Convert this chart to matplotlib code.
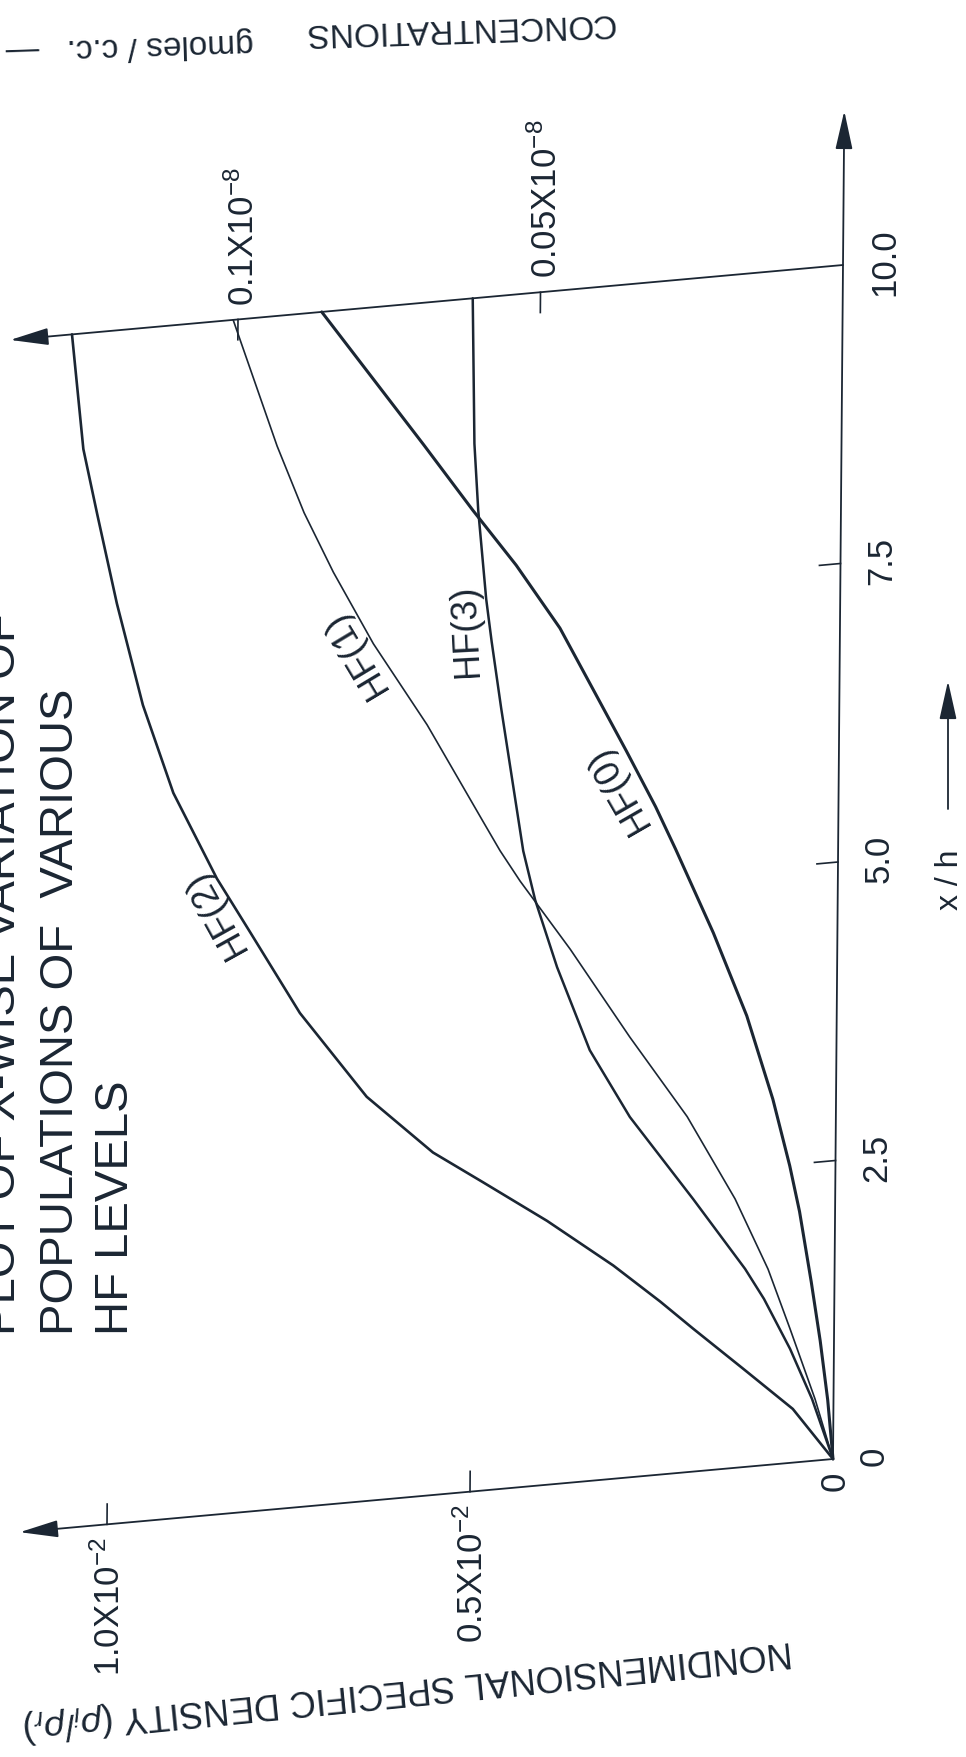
import numpy as np
import matplotlib
matplotlib.use('Agg')
import matplotlib.pyplot as plt
from matplotlib.transforms import Affine2D

plt.rcParams['font.family'] = ['Liberation Sans', 'DejaVu Sans']
plt.rcParams['mathtext.fontset'] = 'custom'
plt.rcParams['mathtext.rm'] = 'Liberation Sans'
plt.rcParams['mathtext.it'] = 'Liberation Sans:italic'
plt.rcParams['mathtext.bf'] = 'Liberation Sans:bold'

# x/h stations and nondimensional specific density (units of 1e-2) for each level
xh_hf2 = [0, 0.45, 0.825, 1.199, 1.45, 1.787, 2.212, 2.585, 2.871, 3.388, 4.14, 4.86, 5.33,
          6.08, 6.84, 7.71, 8.47, 9.03, 10.0]
rho_hf2 = [0, 0.056, 0.125, 0.1945, 0.240, 0.305, 0.397, 0.486, 0.555, 0.647, 0.740, 0.810, 0.856,
           0.917, 0.960, 0.997, 1.025, 1.045, 1.062]

xh_hf1 = [0, 0.517, 1.123, 1.64, 2.254, 2.98, 3.69, 4.47, 5.08, 5.35, 5.61, 6.46, 7.18, 7.81,
          8.33, 8.91, 10.0]
rho_hf1 = [0, 0.0255, 0.0607, 0.0917, 0.138, 0.205, 0.285, 0.368, 0.438, 0.466, 0.490, 0.568,
           0.643, 0.699, 0.740, 0.778, 0.840]

xh_hf3 = [0, 0.519, 0.956, 1.394, 1.66, 2.286, 3.02, 3.61, 4.33, 4.91, 5.33, 6.54, 7.11, 7.47,
          8.22, 8.78, 10.0]
rho_hf3 = [0, 0.0296, 0.0605, 0.0970, 0.1234, 0.196, 0.284, 0.340, 0.386, 0.417, 0.434, 0.466,
           0.480, 0.488, 0.500, 0.506, 0.510]

xh_hf0 = [0, 0.50, 1.00, 1.50, 2.10, 2.49, 3.06, 3.78, 4.50, 5.23, 5.60, 6.09, 6.59, 7.17, 7.73,
          8.22, 8.81, 10.0]
rho_hf0 = [0, 0.008, 0.019, 0.032, 0.049, 0.063, 0.087, 0.124, 0.171, 0.224, 0.252, 0.293, 0.336,
           0.386, 0.447, 0.507, 0.576, 0.718]

xh_ticks = [0, 2.5, 5.0, 7.5, 10.0]
xh_labels = ['0', '2.5', '5.0', '7.5', '10.0']
rho_ticks = [0, 0.5e-2, 1.0e-2]
rho_labels = ['0', r'0.5X10$^{-2}$', r'1.0X10$^{-2}$']
conc_ticks = [0.05e-8, 0.1e-8]
conc_labels = [r'0.05X10$^{-8}$', r'0.1X10$^{-8}$']
conc_per_rho = 1.2e-7   # gmoles/c.c. per unit nondimensional density

ink = '#1b2633'
W, H = 966, 1758

fig = plt.figure(figsize=(W / 100, H / 100), dpi=100)
fig.patch.set_facecolor('white')
ax = fig.add_axes([0, 0, 1, 1])
ax.set_axis_off()
ax.autoscale(False)

# density runs leftward, x/h runs upward; origin near the lower right
ox, oy = 833, H - 1460
sx = 726 / 1e-2
sy = 119.4
ax.set_xlim(ox / sx, (ox - W) / sx)
ax.set_ylim(-oy / sy, (H - oy) / sy)

# the drawing sheet is slightly sheared
shear = Affine2D(np.array([[1.0, 10 / 1194, 0.0], [0.09, 1.0, 0.0], [0.0, 0.0, 1.0]]))
tr = ax.transData + Affine2D().translate(-ox, -oy) + shear + Affine2D().translate(ox, oy)

head = '-|>,head_length=0.85,head_width=0.19'


def arrow(p0, p1):
    ax.annotate('', xy=p1, xytext=p0, xycoords=tr, textcoords=tr,
                arrowprops=dict(arrowstyle=head, color=ink, lw=1.3, mutation_scale=28,
                                shrinkA=0, shrinkB=0))


# axes
arrow((0, 0), (0, 11.29))
arrow((0, 0), (1.12e-2, 0))
arrow((0, 10), (1.147e-2, 10))

# tick marks
for t in xh_ticks[1:-1]:
    ax.plot([0, 0.029e-2], [t, t], color=ink, lw=1.2, transform=tr)
for v in rho_ticks[1:]:
    ax.plot([v, v], [0, 0.17], color=ink, lw=1.2, transform=tr)
for c in conc_ticks:
    d = c / conc_per_rho
    ax.plot([d, d], [10, 9.83], color=ink, lw=1.2, transform=tr)

# tick labels
for t, lab in zip(xh_ticks, xh_labels):
    ax.text(-0.057e-2, t, lab, rotation=90, ha='center', va='center',
            fontsize=25, color=ink, transform=tr)
for v, lab in zip(rho_ticks, rho_labels):
    ax.text(v - 0.003e-2, -0.10, lab, rotation=90, ha='center', va='top',
            fontsize=25, color=ink, transform=tr)
for c, lab in zip(conc_ticks, conc_labels):
    ax.text(c / conc_per_rho - 0.008e-2, 10.12, lab, rotation=90, ha='center',
            va='bottom', fontsize=25, color=ink, transform=tr)

# population curves
curves = [
    (xh_hf2, rho_hf2, 1.9, 'HF(2)', (0.858e-2, 5.05), 119),
    (xh_hf1, rho_hf1, 1.2, 'HF(1)', (0.668e-2, 7.12), 121),
    (xh_hf3, rho_hf3, 1.8, 'HF(3)', (0.515e-2, 7.23), 93),
    (xh_hf0, rho_hf0, 2.2, 'HF(0)', (0.304e-2, 5.79), 120),
]
for xh, rho, lw, name, pos, rot in curves:
    ax.plot(np.array(rho) * 1e-2, xh, color=ink, lw=lw, transform=tr,
            solid_joinstyle='round', solid_capstyle='round')
    ax.text(pos[0], pos[1], name, rotation=rot, ha='center', va='center',
            fontsize=26, color=ink, transform=tr)


def fpos(x, y):
    return x / W, 1 - y / H


# title
title_lines = ['PLOT OF X-WISE VARIATION OF', 'POPULATIONS OF  VARIOUS', 'HF LEVELS']
for line, xb in zip(title_lines, [15, 73, 128]):
    fig.text(*fpos(xb, 1335), line, rotation=90, rotation_mode='anchor',
             ha='left', va='baseline', fontsize=34, color=ink)

# axis captions
fig.text(*fpos(408, 1689), r'NONDIMENSIONAL SPECIFIC DENSITY ($\rho_i/\rho_r$)',
         rotation=185.7, ha='center', va='center', fontsize=26, color=ink)
fig.text(*fpos(459, 28), 'CONCENTRATIONS', rotation=181.9, ha='center', va='center',
         fontsize=24, color=ink)
fig.text(*fpos(130, 46), 'gmoles / c.c.   \u2014', rotation=181.9, ha='center',
         va='center', fontsize=24, color=ink)

fig.text(*fpos(958, 910), 'x / h', rotation=90, rotation_mode='anchor',
         ha='left', va='baseline', fontsize=23, color=ink)
ax.annotate('', xy=(948, H - 682), xytext=(948, H - 810), xycoords='figure pixels',
            textcoords='figure pixels',
            arrowprops=dict(arrowstyle=head, color=ink, lw=1.3, mutation_scale=28,
                            shrinkA=0, shrinkB=0))

fig.savefig('out.png', dpi=100, facecolor='white')
